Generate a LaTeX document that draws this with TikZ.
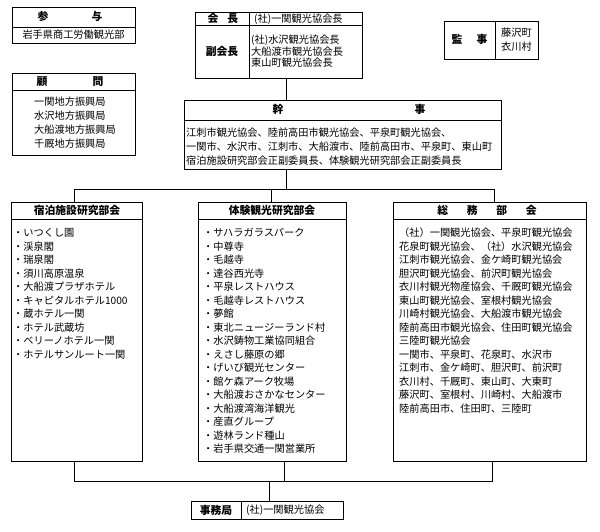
\documentclass[tikz,border=0pt]{standalone}
\usepackage{fontspec}
\setmainfont{Noto Sans CJK JP}
\newcommand\myhd{\fontsize{10.8}{12}\selectfont\bfseries}
\newcommand\mytx{\fontsize{10.2}{12}\selectfont}
\tikzset{
  frm/.style={draw, line width=0.7pt, inner sep=0pt, anchor=north west},
  hd/.style={font=\myhd, inner sep=0pt, text height=9.3pt, text depth=1.3pt},
  li/.style={font=\mytx, inner sep=0pt, text height=8.9pt, text depth=1.2pt, anchor=west},
  ln/.style={line width=0.7pt},
}
\begin{document}
\begin{tikzpicture}[x=1pt,y=-1pt]
\useasboundingbox (0,0) rectangle (600,532);
% 参与
\node[frm, minimum width=123pt, minimum height=36pt] (sanyo) at (12,7) {};
\draw[ln] (12,27) -- (135,27);
\node[hd] (sanyoH) at (70,17) {参\hspace{43pt}与};
\node[li, anchor=center] (sanyoT) at (73.5,35) {岩手県商工労働観光部};
% 顧問
\node[frm, minimum width=123pt, minimum height=82pt] (komon) at (12,73) {};
\draw[ln] (12,90) -- (135,90);
\node[hd] (komonH) at (70,81.5) {顧\hspace{45pt}問};
\foreach \t [count=\i] in {一関地方振興局,水沢地方振興局,大船渡地方振興局,千厩地方振興局}
  \node[li] (komon\i) at (34,{102+14*(\i-1)}) {\t};
% 会長
\node[frm, minimum width=167pt, minimum height=66pt] (kaicho) at (195,12) {};
\draw[ln] (195,25) -- (362,25);
\draw[ln] (249,12) -- (249,78);
\node[hd] (kaichoH) at (223,18.5) {会\hspace{9pt}長};
\node[li] (kaichoT) at (254,18.5) {(社)一関観光協会長};
\node[hd] (fukuH) at (222,51.5) {副会長};
\foreach \t [count=\i] in {(社)水沢観光協会長,大船渡市観光協会長,東山町観光協会長}
  \node[li] (fuku\i) at (251,{40+11.5*(\i-1)}) {\t};
% 監事
\node[frm, minimum width=94pt, minimum height=38pt] (kanji) at (444,21) {};
\draw[ln] (495,21) -- (495,59);
\node[hd] (kanjiH) at (469.5,40) {監\hspace{14pt}事};
\foreach \t [count=\i] in {藤沢町,衣川村}
  \node[li] (kanji\i) at (501,{33+14*(\i-1)}) {\t};
% 幹事
\node[frm, minimum width=317pt, minimum height=69pt] (kanj) at (184,100) {};
\draw[ln] (184,120) -- (501,120);
\node[hd] (kanjH) at (349,110) {幹\hspace{131pt}事};
\foreach \t [count=\i] in {江刺市観光協会、陸前高田市観光協会、平泉町観光協会、,一関市、水沢市、江刺市、大船渡市、陸前高田市、平泉町、東山町,宿泊施設研究部会正副委員長、体験観光研究部会正副委員長}
  \node[li] (kanj\i) at (186,{133+14*(\i-1)}) {\t};
% 宿泊施設研究部会
\node[frm, minimum width=131pt, minimum height=259pt] (shuku) at (11,202) {};
\draw[ln] (11,219) -- (142,219);
\node[hd] (shukuH) at (77,210.5) {宿泊施設研究部会};
\foreach \t [count=\i] in {いつくし園,渓泉閣,瑞泉閣,須川高原温泉,大船渡プラザホテル,キャピタルホテル1000,蔵ホテル一関,ホテル武蔵坊,ベリーノホテル一関,ホテルサンルート一関}
  \node[li] (shuku\i) at (13,{233+13.5*(\i-1)}) {・\t};
% 体験観光研究部会
\node[frm, minimum width=148pt, minimum height=259pt] (taiken) at (198,202) {};
\draw[ln] (198,219) -- (346,219);
\node[hd] (taikenH) at (272,210.5) {体験観光研究部会};
\foreach \t [count=\i] in {サハラガラスパーク,中尊寺,毛越寺,達谷西光寺,平泉レストハウス,毛越寺レストハウス,夢館,東北ニュージーランド村,水沢鋳物工業協同組合,えさし藤原の郷,げいび観光センター,館ケ森アーク牧場,大船渡おさかなセンター,大船渡湾海洋観光,産直グループ,遊林ランド種山,岩手県交通一関営業所}
  \node[li] (taiken\i) at (203,{233+13.5*(\i-1)}) {・\t};
% 総務部会
\node[frm, minimum width=193pt, minimum height=259pt] (somu) at (393,202) {};
\draw[ln] (393,219) -- (586,219);
\node[hd] (somuH) at (487,210.5) {総\hspace{18.7pt}務\hspace{18.7pt}部\hspace{18.7pt}会};
\foreach \t [count=\i] in {（社）一関観光協会、平泉町観光協会,花泉町観光協会、（社）水沢観光協会,江刺市観光協会、金ケ崎町観光協会,胆沢町観光協会、前沢町観光協会,衣川村観光物産協会、千厩町観光協会,東山町観光協会、室根村観光協会,川崎村観光協会、大船渡市観光協会,陸前高田市観光協会、住田町観光協会,三陸町観光協会,一関市、平泉町、花泉町、水沢市,江刺市、金ケ崎町、胆沢町、前沢町,衣川村、千厩町、東山町、大東町,藤沢町、室根村、川崎村、大船渡市,陸前高田市、住田町、三陸町}
  \node[li] (somu\i) at (399,{233+13.5*(\i-1)}) {\t};
% 事務局
\node[frm, minimum width=152pt, minimum height=18pt] (jimu) at (191,501) {};
\draw[ln] (241,501) -- (241,519);
\node[hd] (jimuH) at (216,510) {事務局};
\node[li] (jimuT) at (246,510) {(社)一関観光協会};
% connectors
\coordinate (tb) at (286,189);
\coordinate (tbL) at (74,189);
\coordinate (tbM) at (271,189);
\coordinate (tbR) at (494,189);
\coordinate (bbL) at (74,481);
\coordinate (bbM) at (284,481);
\coordinate (bbR) at (492,481);
\coordinate (bbJ) at (269,481);
\draw[ln] (kaicho.south -| tb) -- (kanj.north -| tb);
\draw[ln] (kanj.south -| tb) -- (tb);
\draw[ln] (shuku.north -| tbL) -- (tbL) -- (tbR) -- (somu.north -| tbR);
\draw[ln] (tbM) -- (taiken.north -| tbM);
\draw[ln] (shuku.south -| bbL) -- (bbL) -- (bbR) -- (somu.south -| bbR);
\draw[ln] (taiken.south -| bbM) -- (bbM);
\draw[ln] (bbJ) -- (jimu.north -| bbJ);
\end{tikzpicture}
\end{document}
